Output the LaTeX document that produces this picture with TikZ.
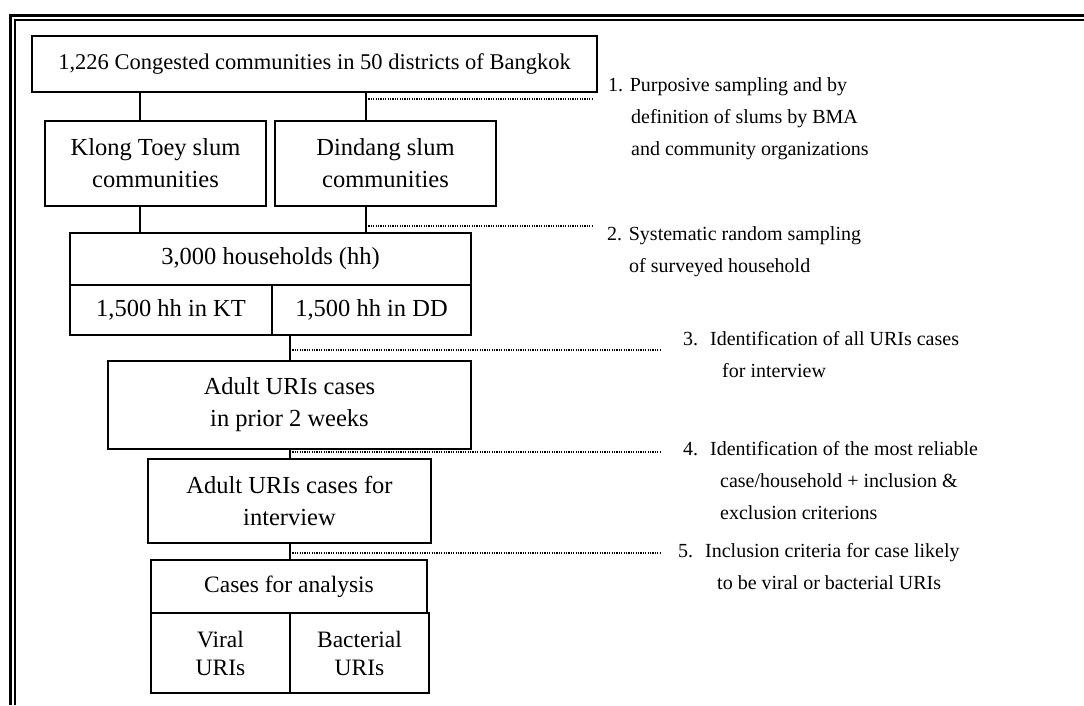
\documentclass[tikz,border=0pt]{standalone}
\usepackage{fontspec}
\setmainfont{Liberation Serif}
\tikzset{
block/.style={rectangle, inner sep=0pt, text centered, align=center, draw=black, line width=2pt, font=\fontsize{24.5}{32}\selectfont},
note/.style={anchor=base west, inner sep=0pt, font=\fontsize{20}{32}\selectfont},
noarrow/.style={line width=2pt},
dotline/.style={line width=1.2pt, dash pattern=on 1.2pt off 1.2pt}}

\begin{document}
\begin{tikzpicture}[x=1pt,y=-1pt]
\useasboundingbox (0,0) rectangle (1084,705);
% double frame
\draw [line width=2.5pt] (10.5,705) -- (10.5,15.5) -- (1084,15.5);
\draw [line width=1.6pt] (15,705) -- (15,20) -- (1084,20);

\node (top) [block, minimum width=565pt, minimum height=56pt, font=\fontsize{22.5}{32}\selectfont] at (314.5,64) {1,226 Congested communities in 50 districts of Bangkok};
\node (kt) [block, minimum width=221pt, minimum height=85pt] at (155.5,163.5) {Klong Toey slum\\communities};
\node (dd) [block, minimum width=221pt, minimum height=85pt] at (385.5,163.5) {Dindang slum\\communities};
\node (hh) [block, minimum width=401pt, minimum height=52pt] at (270.5,259) {3,000 households (hh)};
\node (hhkt) [block, minimum width=202pt, minimum height=50pt] at (171,310) {1,500 hh in KT};
\node (hhdd) [block, minimum width=199pt, minimum height=50pt] at (371.5,310) {1,500 hh in DD};
\node (uri) [block, minimum width=363pt, minimum height=88pt] at (289.5,405) {Adult URIs cases\\in prior 2 weeks};
\node (intv) [block, minimum width=283pt, minimum height=84pt] at (289.5,501) {Adult URIs cases for\\interview};
\node (cases) [block, minimum width=276pt, minimum height=53pt, font=\fontsize{23.5}{28}\selectfont] at (289,586.5) {Cases for analysis};
\node (viral) [block, minimum width=139pt, minimum height=80pt, font=\fontsize{23.5}{28}\selectfont] at (220.5,653) {Viral\\URIs};
\node (bact) [block, minimum width=139pt, minimum height=80pt, font=\fontsize{23.5}{28}\selectfont] at (359.5,653) {Bacterial\\URIs};

% sampling steps
\node (step1) [note] at (608,91) {\begin{tabular}[t]{@{}l@{}}1. Purposive sampling and by\\\hspace*{23pt}definition of slums by BMA\\\hspace*{23pt}and community organizations\end{tabular}};
\node (step2) [note] at (607,240) {\begin{tabular}[t]{@{}l@{}}2. Systematic random sampling\\\hspace*{22pt}of surveyed household\end{tabular}};
\node (step3) [note] at (683,345) {\begin{tabular}[t]{@{}l@{}}3.\hspace{12pt}Identification of all URIs cases\\\hspace*{39pt}for interview\end{tabular}};
\node (step4) [note] at (683,455) {\begin{tabular}[t]{@{}l@{}}4.\hspace{12pt}Identification of the most reliable\\\hspace*{37pt}case/household + inclusion \&\\\hspace*{37pt}exclusion criterions\end{tabular}};
\node (step5) [note] at (678,557) {\begin{tabular}[t]{@{}l@{}}5.\hspace{12pt}Inclusion criteria for case likely\\\hspace*{39pt}to be viral or bacterial URIs\end{tabular}};

\coordinate (ktx) at (140,0);
\coordinate (ddx) at (366,0);
\coordinate (midx) at (290,0);
\coordinate (s1) at (592,99);
\coordinate (s2) at (592,226);
\coordinate (s3) at (660,350);
\coordinate (s4) at (660,452);
\coordinate (s5) at (660,553);

\draw [noarrow] (top.south -| ktx) -- (kt.north -| ktx);
\draw [noarrow] (top.south -| ddx) -- (dd.north -| ddx);
\draw [noarrow] (kt.south -| ktx) -- (hh.north -| ktx);
\draw [noarrow] (dd.south -| ddx) -- (hh.north -| ddx);
\draw [noarrow] (hhdd.south -| midx) -- (uri.north -| midx);
\draw [noarrow] (uri.south -| midx) -- (intv.north -| midx);
\draw [noarrow] (intv.south -| midx) -- (cases.north -| midx);

\draw [dotline] (s1 -| ddx) -- (s1);
\draw [dotline] (s2 -| ddx) -- (s2);
\draw [dotline] (s3 -| midx) -- (s3);
\draw [dotline] (s4 -| midx) -- (s4);
\draw [dotline] (s5 -| midx) -- (s5);
\end{tikzpicture}
\end{document}
